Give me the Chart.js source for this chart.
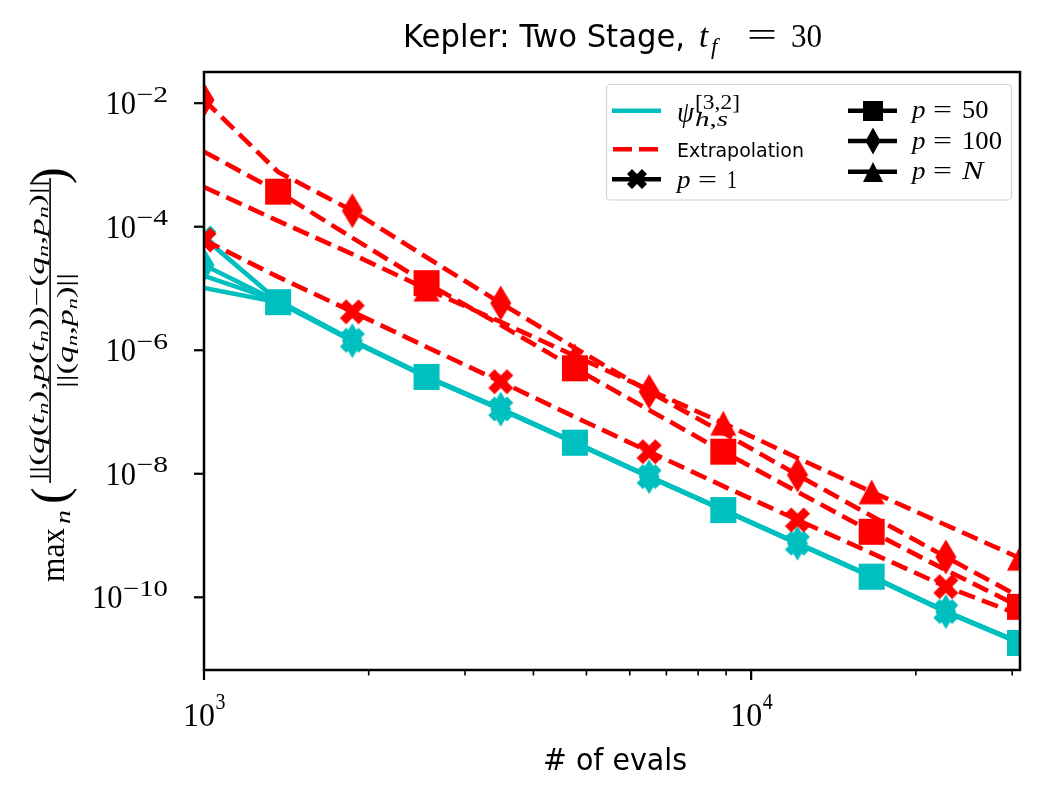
<!DOCTYPE html>
<html>
<head>
<meta charset="utf-8">
<title>Kepler: Two Stage</title>
<script src="https://cdn.jsdelivr.net/npm/chart.js@4.4.1/dist/chart.umd.min.js"></script>
<style>
  html, body { margin: 0; padding: 0; background: #fff; }
  #wrap { width: 1049px; height: 800px; }
</style>
</head>
<body>
<div id="wrap"><canvas id="keplerChart"></canvas></div>
<script>
// number of function evaluations (x axis)
const evals = [1000, 1366, 1867, 2551, 3486, 4763, 6508, 8893, 12151, 16603, 22687, 31000];

// psi^[3,2]_{h,s} errors (solid cyan)
const psiP1   = [6.6e-5, 6.3e-6, 1.45e-6, 3.75e-7, 1.12e-7, 3.2e-8, 9.0e-9, 2.6e-9, 7.5e-10, 2.17e-10, 5.9e-11, 1.83e-11];
const psiP50  = [1.02e-5, 6.0e-6, 1.41e-6, 3.70e-7, 1.10e-7, 3.19e-8, 8.95e-9, 2.59e-9, 7.45e-10, 2.16e-10, 5.85e-11, 1.82e-11];
const psiP100 = [2.4e-5, 6.1e-6, 1.43e-6, 3.72e-7, 1.11e-7, 3.2e-8, 8.98e-9, 2.6e-9, 7.5e-10, 2.16e-10, 5.86e-11, 1.82e-11];
const psiPN   = [1.6e-5, 6.3e-6, 1.42e-6, 3.7e-7, 1.11e-7, 3.19e-8, 8.97e-9, 2.59e-9, 7.48e-10, 2.16e-10, 5.85e-11, 1.82e-11];

// Extrapolation errors (dashed red)
const extP1   = [6.1e-5, 1.54e-5, 4.2e-6, 1.13e-6, 3.1e-7, 8.3e-8, 2.28e-8, 6.3e-9, 1.79e-9, 5.2e-10, 1.49e-10, 5.2e-11];
const extP50  = [1.64e-3, 3.7e-4, 6.6e-5, 1.22e-5, 2.57e-6, 5.1e-7, 1.08e-7, 2.28e-8, 5.1e-9, 1.15e-9, 2.77e-10, 7.0e-11];
const extP100 = [1.13e-2, 7.7e-4, 1.82e-4, 3.2e-5, 5.8e-6, 1.09e-6, 2.14e-7, 4.6e-8, 9.6e-9, 2.07e-9, 4.5e-10, 1.01e-10];
const extPN   = [4.4e-4, 1.24e-4, 3.6e-5, 9.8e-6, 2.87e-6, 8.1e-7, 2.28e-7, 6.6e-8, 1.8e-8, 5.1e-9, 1.48e-9, 4.3e-10];

// axes
const xRange = [1000, 31000];
const yRange = [6.65e-12, 3.2e-2];
const xMajorTicks = [1e3, 1e4];
const xMajorExp = ['3', '4'];
const xMinorTicks = [2e3, 3e3, 4e3, 5e3, 6e3, 7e3, 8e3, 9e3, 2e4, 3e4];
const yMajorTicks = [1e-2, 1e-4, 1e-6, 1e-8, 1e-10];
const yMajorExp = ['\u22122', '\u22124', '\u22126', '\u22128', '\u221210'];

// which points carry a marker
const evenIdx = [0, 2, 4, 6, 8, 10];
const oddIdx = [1, 3, 5, 7, 9, 11];
const triIdx = [3, 5, 7, 9, 11];

const CYAN = 'rgb(0,191,191)';
const RED = 'rgb(255,0,0)';
const SERIF = '"Liberation Serif", "DejaVu Serif", serif';
const SANS = '"DejaVu Sans", sans-serif';

// marker images (matplotlib-like shapes)
function makeMarker(shape, color, w, h) {
  const c = document.createElement('canvas');
  let W = Math.ceil(w) + 2, H = Math.ceil(h) + 2;
  if (W % 2) W++;
  if (H % 2) H++;
  c.width = W; c.height = H;
  const g = c.getContext('2d');
  g.fillStyle = color;
  g.translate(W / 2, H / 2);
  g.beginPath();
  if (shape === 'square') {
    g.rect(-w / 2, -h / 2, w, h);
  } else if (shape === 'diamond') {
    g.moveTo(0, -h / 2); g.lineTo(w / 2, 0); g.lineTo(0, h / 2); g.lineTo(-w / 2, 0);
    g.closePath();
  } else if (shape === 'triangle') {
    g.moveTo(0, -h / 2); g.lineTo(w / 2, h / 2); g.lineTo(-w / 2, h / 2);
    g.closePath();
  } else if (shape === 'x') {
    // filled plus rotated by 45 degrees
    const s = w / 2 * Math.SQRT2;   // a + t
    const a = s * 0.75, t = s * 0.25;
    const pts = [[t, t], [t, a], [-t, a], [-t, t], [-a, t], [-a, -t], [-t, -t], [-t, -a], [t, -a], [t, -t], [a, -t], [a, t]];
    g.rotate(Math.PI / 4);
    pts.forEach((p, i) => i ? g.lineTo(p[0], p[1]) : g.moveTo(p[0], p[1]));
    g.closePath();
  }
  g.fill();
  return c;
}

function markerSet(color) {
  return {
    x: makeMarker('x', color, 25, 25),
    square: makeMarker('square', color, 26, 26),
    diamond: makeMarker('diamond', color, 21, 35),
    triangle: makeMarker('triangle', color, 26, 25)
  };
}
const redM = markerSet(RED);
const cyanM = markerSet(CYAN);
const blackM = {
  x: makeMarker('x', '#000', 20, 20),
  square: makeMarker('square', '#000', 20, 20),
  diamond: makeMarker('diamond', '#000', 15, 27),
  triangle: makeMarker('triangle', '#000', 20, 20)
};

function series(values, color, dashed, marker, marks) {
  return {
    data: values.map((v, i) => ({ x: evals[i], y: v })),
    borderColor: color,
    backgroundColor: color,
    borderWidth: 4.6,
    borderDash: dashed ? [17, 7.5] : [],
    borderJoinStyle: 'round',
    borderCapStyle: dashed ? 'butt' : 'square',
    pointStyle: marker,
    pointRadius: values.map((_, i) => marks.includes(i) ? 10 : 0),
    pointHoverRadius: 0,
    pointHitRadius: 0,
    fill: false,
    tension: 0,
    clip: 0
  };
}

// text helpers
function drawRuns(ctx, runs, x, y, width) {
  let total = 0;
  runs.forEach(r => { ctx.font = r.f; r.w = ctx.measureText(r.t).width; total += r.w; });
  const sx = width ? width / total : 1;
  ctx.save();
  ctx.translate(x, y);
  ctx.scale(sx, 1);
  let cx = 0;
  runs.forEach(r => { ctx.font = r.f; ctx.fillText(r.t, cx, r.dy || 0); cx += r.w; });
  ctx.restore();
  return total * sx;
}
function txt(ctx, s, font, x, y, width) {
  return drawRuns(ctx, [{ t: s, f: font }], x, y, width);
}
const R = n => `${n}px ${SERIF}`;
const I = n => `italic ${n}px ${SERIF}`;

const mplAxes = {
  id: 'mplAxes',
  beforeDraw(chart) {
    const ctx = chart.ctx;
    ctx.save();
    ctx.fillStyle = '#fff';
    ctx.fillRect(0, 0, chart.width, chart.height);
    ctx.restore();
  },
  afterDraw(chart) {
    const ctx = chart.ctx;
    const a = chart.chartArea;
    const xs = chart.scales.x, ys = chart.scales.y;
    ctx.save();
    ctx.fillStyle = '#000';
    ctx.strokeStyle = '#000';
    ctx.textBaseline = 'alphabetic';

    // frame
    ctx.lineWidth = 2.5;
    ctx.strokeRect(a.left, a.top, a.right - a.left, a.bottom - a.top);

    // x ticks
    xMajorTicks.forEach((v, i) => {
      const px = xs.getPixelForValue(v);
      ctx.lineWidth = 2.2;
      ctx.beginPath(); ctx.moveTo(px, a.bottom); ctx.lineTo(px, a.bottom + 10); ctx.stroke();
      const w10 = 32, wSup = 10;
      const x0 = px - (w10 + wSup) / 2;
      txt(ctx, '10', R(34), x0, 726, w10);
      txt(ctx, xMajorExp[i], R(23), x0 + w10 + 0.5, 709, wSup);
    });
    xMinorTicks.forEach(v => {
      const px = xs.getPixelForValue(v);
      ctx.lineWidth = 1.6;
      ctx.beginPath(); ctx.moveTo(px, a.bottom); ctx.lineTo(px, a.bottom + 5.5); ctx.stroke();
    });

    // y ticks
    yMajorTicks.forEach((v, i) => {
      const py = ys.getPixelForValue(v);
      ctx.lineWidth = 2.2;
      ctx.beginPath(); ctx.moveTo(a.left, py); ctx.lineTo(a.left - 10, py); ctx.stroke();
      const supW = yMajorExp[i].length > 2 ? 45 : 31.5;
      const right = 168;
      txt(ctx, yMajorExp[i], R(23), right - supW, py - 1.5, supW);
      txt(ctx, '10', R(34), right - supW - 31, py + 11, 30.5);
    });

    // title
    txt(ctx, 'Kepler: Two Stage,', `32px ${SANS}`, 403, 47, 282);
    txt(ctx, 't', I(33), 699, 47);
    txt(ctx, 'f', I(23), 711, 54);
    txt(ctx, '=', R(34), 747, 46, 30);
    txt(ctx, '30', R(34), 791, 47, 31);

    // x label
    txt(ctx, '# of evals', `30px ${SANS}`, 543, 770, 144);

    // y label (rotated)
    ctx.save();
    ctx.rotate(-Math.PI / 2);
    // rotated frame: page (px, py) -> (u = -py, v = px)
    txt(ctx, 'max', R(34), -582, 64, 54);
    txt(ctx, 'n', I(22), -524, 70, 14);
    txt(ctx, '(', R(50), -504, 66);
    const num = [
      { t: '||(', f: R(22) }, { t: 'q', f: I(22) }, { t: '(', f: R(22) }, { t: 't', f: I(22) },
      { t: 'n', f: I(15), dy: 4 }, { t: '),', f: R(22) }, { t: 'p', f: I(22) }, { t: '(', f: R(22) },
      { t: 't', f: I(22) }, { t: 'n', f: I(15), dy: 4 }, { t: '))\u2212(', f: R(22) }, { t: 'q', f: I(22) },
      { t: 'n', f: I(15), dy: 4 }, { t: ',', f: R(22) }, { t: 'p', f: I(22) }, { t: 'n', f: I(15), dy: 4 },
      { t: ')||', f: R(22) }
    ];
    drawRuns(ctx, num, -480, 44, 300);
    ctx.fillRect(-483, 49.3, 305, 1.6);
    const den = [
      { t: '||(', f: R(23) }, { t: 'q', f: I(23) }, { t: 'n', f: I(15), dy: 4 }, { t: ',', f: R(23) },
      { t: 'p', f: I(23) }, { t: 'n', f: I(15), dy: 4 }, { t: ')||', f: R(23) }
    ];
    drawRuns(ctx, den, -388, 73, 115);
    txt(ctx, ')', R(50), -184, 66);
    ctx.restore();

    // legend
    ctx.save();
    ctx.beginPath();
    ctx.roundRect(606.5, 84.5, 405, 115.5, 4);
    ctx.fillStyle = 'rgba(255,255,255,0.8)';
    ctx.fill();
    ctx.strokeStyle = '#d4d4d4';
    ctx.lineWidth = 1.2;
    ctx.stroke();
    ctx.restore();

    const legLine = (x1, x2, y, color, dash) => {
      ctx.save();
      ctx.strokeStyle = color;
      ctx.lineWidth = 4.6;
      ctx.setLineDash(dash || []);
      ctx.beginPath(); ctx.moveTo(x1, y); ctx.lineTo(x2, y); ctx.stroke();
      ctx.restore();
    };
    const legMark = (img, x, y) => ctx.drawImage(img, Math.round(x - img.width / 2), Math.round(y - img.height / 2));

    legLine(612, 661, 110.7, CYAN);
    txt(ctx, '\u03c8', I(30), 677, 122, 17);
    txt(ctx, '[3,2]', R(20), 695, 109, 45);
    drawRuns(ctx, [{ t: 'h', f: I(20) }, { t: ',', f: R(20) }, { t: 's', f: I(20) }], 695, 126, 33);

    legLine(613, 660, 149.3, RED, [19, 7]);
    txt(ctx, 'Extrapolation', `19px ${SANS}`, 677, 157, 127);

    const pLabel = (x, y, rhs, rhsW, rhsItalic) => {
      txt(ctx, 'p', I(25), x, y, 13.5);
      txt(ctx, '=', R(25), x + 21, y - 0.5, 19);
      txt(ctx, rhs, rhsItalic ? I(25) : R(25), x + 50, y, rhsW);
    };
    legLine(612, 661, 179.3, '#000');
    legMark(blackM.x, 636.5, 179.3);
    pLabel(677, 188, '1', 10);

    legLine(848, 897, 110.7, '#000');
    legMark(blackM.square, 872.5, 110.7);
    pLabel(912, 118, '50', 26.5);

    legLine(848, 897, 141, '#000');
    legMark(blackM.diamond, 872.5, 141);
    pLabel(912, 149, '100', 40);

    legLine(848, 897, 171.7, '#000');
    legMark(blackM.triangle, 872.5, 171.7);
    pLabel(912, 179, 'N', 21.5, true);

    ctx.restore();
  }
};

new Chart(document.getElementById('keplerChart'), {
  type: 'line',
  data: {
    datasets: [
      series(extP1, RED, true, redM.x, evenIdx),
      series(extP50, RED, true, redM.square, oddIdx),
      series(extP100, RED, true, redM.diamond, evenIdx),
      series(extPN, RED, true, redM.triangle, triIdx),
      series(psiP50, CYAN, false, cyanM.square, oddIdx),
      series(psiP1, CYAN, false, cyanM.x, evenIdx),
      series(psiP100, CYAN, false, cyanM.diamond, evenIdx),
      series(psiPN, CYAN, false, cyanM.triangle, oddIdx)
    ]
  },
  options: {
    responsive: true,
    maintainAspectRatio: false,
    animation: false,
    events: [],
    layout: { padding: { left: 204, right: 29, top: 72, bottom: 130 } },
    plugins: { legend: { display: false }, title: { display: false }, tooltip: { enabled: false } },
    scales: {
      x: { type: 'logarithmic', min: xRange[0], max: xRange[1], display: false },
      y: { type: 'logarithmic', min: yRange[0], max: yRange[1], display: false }
    }
  },
  plugins: [mplAxes]
});
</script>
</body>
</html>
